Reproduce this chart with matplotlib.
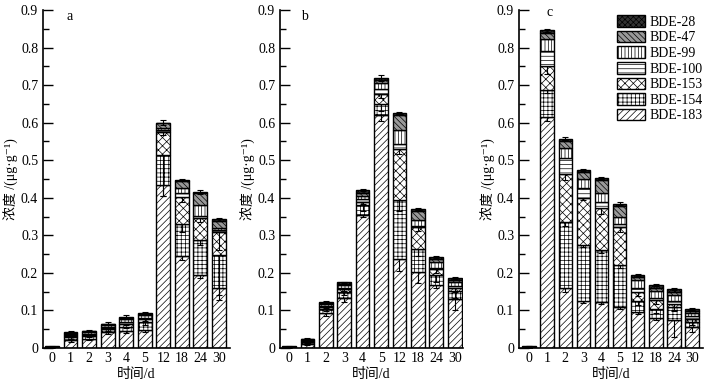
import numpy as np
import matplotlib
matplotlib.use('Agg')
import matplotlib.pyplot as plt

# Fuentes: serif para números y CJK para el chino
plt.rcParams['font.family'] = ['Liberation Serif', 'Noto Sans CJK SC', 'DejaVu Serif']
plt.rcParams['hatch.linewidth'] = 0.5

# Días de muestreo
dias = ['0', '1', '2', '3', '4', '5', '12', '18', '24', '30']

# Congéneres (de abajo hacia arriba en la pila)
congeneres = ['BDE-183', 'BDE-154', 'BDE-153', 'BDE-100', 'BDE-99', 'BDE-47', 'BDE-28']
tramas = ['/////', '++++', 'xxxx', '----', '|||||', '\\\\\\\\\\\\', 'xxxxxx']
fondos = ['white', 'white', 'white', 'white', 'white', '0.6', '0.2']

# Panel a (μg/g)
a_183 = [0.002, 0.020, 0.025, 0.042, 0.045, 0.048, 0.434, 0.244, 0.195, 0.160]
a_154 = [0.0005, 0.008, 0.007, 0.008, 0.012, 0.020, 0.080, 0.086, 0.093, 0.087]
a_153 = [0.0005, 0.004, 0.003, 0.004, 0.008, 0.008, 0.062, 0.073, 0.058, 0.063]
a_100 = [0.0003, 0.002, 0.002, 0.003, 0.004, 0.004, 0.004, 0.009, 0.006, 0.003]
a_99 = [0.0003, 0.004, 0.005, 0.005, 0.008, 0.007, 0.005, 0.013, 0.029, 0.006]
a_47 = [0.0002, 0.002, 0.002, 0.002, 0.003, 0.003, 0.013, 0.020, 0.032, 0.019]
a_28 = [0.0002, 0.002, 0.001, 0.001, 0.002, 0.002, 0.002, 0.003, 0.003, 0.005]

# Panel b
b_183 = [0.002, 0.010, 0.092, 0.132, 0.354, 0.620, 0.236, 0.202, 0.168, 0.131]
b_154 = [0.0005, 0.005, 0.012, 0.016, 0.026, 0.030, 0.159, 0.062, 0.027, 0.021]
b_153 = [0.0005, 0.002, 0.005, 0.008, 0.010, 0.027, 0.136, 0.058, 0.015, 0.008]
b_100 = [0.0003, 0.002, 0.004, 0.005, 0.006, 0.013, 0.013, 0.004, 0.004, 0.006]
b_99 = [0.0003, 0.003, 0.004, 0.007, 0.009, 0.015, 0.036, 0.015, 0.016, 0.010]
b_47 = [0.0002, 0.001, 0.003, 0.003, 0.008, 0.008, 0.041, 0.024, 0.007, 0.006]
b_28 = [0.0002, 0.002, 0.003, 0.004, 0.007, 0.007, 0.005, 0.005, 0.006, 0.005]

# Panel c
c_183 = [0.001, 0.615, 0.160, 0.125, 0.122, 0.110, 0.095, 0.080, 0.075, 0.057]
c_154 = [0.0002, 0.073, 0.176, 0.150, 0.140, 0.112, 0.030, 0.023, 0.035, 0.013]
c_153 = [0.0002, 0.062, 0.127, 0.125, 0.110, 0.101, 0.023, 0.025, 0.008, 0.008]
c_100 = [0.0002, 0.040, 0.042, 0.025, 0.018, 0.008, 0.013, 0.006, 0.006, 0.006]
c_99 = [0.0002, 0.032, 0.027, 0.024, 0.022, 0.019, 0.019, 0.018, 0.018, 0.008]
c_47 = [0.0002, 0.018, 0.020, 0.019, 0.036, 0.028, 0.008, 0.008, 0.008, 0.006]
c_28 = [0.003, 0.006, 0.005, 0.005, 0.005, 0.006, 0.007, 0.008, 0.007, 0.006]

# Desviaciones (solo algunos congéneres y el total)
a_e183 = [0.001, 0.004, 0.004, 0.005, 0.006, 0.006, 0.030, 0.010, 0.008, 0.020]
a_e154 = [0.0, 0.003, 0.003, 0.004, 0.005, 0.006, 0.110, 0.020, 0.015, 0.120]
a_e153 = [0.0, 0.002, 0.002, 0.003, 0.004, 0.003, 0.010, 0.015, 0.010, 0.050]
a_etot = [0.001, 0.003, 0.002, 0.003, 0.006, 0.004, 0.006, 0.003, 0.005, 0.004]

b_e183 = [0.001, 0.003, 0.008, 0.010, 0.006, 0.015, 0.030, 0.030, 0.008, 0.030]
b_e154 = [0.0, 0.003, 0.006, 0.008, 0.015, 0.020, 0.030, 0.020, 0.020, 0.020]
b_e153 = [0.0, 0.002, 0.003, 0.004, 0.006, 0.010, 0.015, 0.010, 0.010, 0.010]
b_etot = [0.001, 0.002, 0.003, 0.002, 0.003, 0.008, 0.002, 0.003, 0.003, 0.003]

c_e183 = [0.001, 0.010, 0.010, 0.005, 0.005, 0.005, 0.005, 0.005, 0.045, 0.015]
c_e154 = [0.0, 0.010, 0.010, 0.005, 0.010, 0.010, 0.010, 0.010, 0.010, 0.010]
c_e153 = [0.0, 0.020, 0.015, 0.005, 0.015, 0.015, 0.010, 0.010, 0.020, 0.010]
c_etot = [0.001, 0.004, 0.004, 0.003, 0.003, 0.004, 0.003, 0.003, 0.003, 0.003]

paneles = [
    ('a', [a_183, a_154, a_153, a_100, a_99, a_47, a_28],
     [a_e183, a_e154, a_e153, None, None, None, a_etot], [43, 230], (70, 17)),
    ('b', [b_183, b_154, b_153, b_100, b_99, b_47, b_28],
     [b_e183, b_e154, b_e153, None, None, None, b_etot], [280, 463], (304, 17)),
    ('c', [c_183, c_154, c_153, c_100, c_99, c_47, c_28],
     [c_e183, c_e154, c_e153, None, None, None, c_etot], [519, 703], (550, 12)),
]
xlims = [(-0.49, 9.6), (-0.49, 9.45), (-0.55, 9.6)]

W, H = 710, 383
fig = plt.figure(figsize=(W / 100, H / 100), dpi=100)

x = np.arange(len(dias))
for k, (letra, series, errores, (x0, x1), pos_letra) in enumerate(paneles):
    ax = fig.add_axes([x0 / W, (H - 348) / H, (x1 - x0) / W, 338 / H])
    base = np.zeros(len(dias))
    n = len(series)
    for i, vals in enumerate(series):
        vals = np.array(vals)
        ax.bar(x, vals, bottom=base, width=0.74, color=fondos[i], edgecolor='black',
               linewidth=1.0, hatch=tramas[i], zorder=2 + 2 * i, label=congeneres[i])
        if errores[i] is not None:
            err = np.array(errores[i])
            # el total lleva barra completa; los segmentos solo hacia abajo
            if i == n - 1:
                yerr = err
            else:
                yerr = [err, np.zeros_like(err)]
            ax.errorbar(x, base + vals, yerr=yerr, fmt='none', ecolor='black',
                        elinewidth=0.8, capsize=2, capthick=0.8, zorder=3 + 2 * i)
        base = base + vals

    ax.set_xlim(*xlims[k])
    ax.set_ylim(0, 0.9)
    ax.set_xticks(x)
    ax.set_xticklabels(dias)
    ax.set_yticks(np.arange(0, 0.91, 0.1))
    ax.set_yticklabels(['0'] + ['%.1f' % v for v in np.arange(0.1, 0.91, 0.1)])
    ax.set_yticks(np.arange(0.05, 0.9, 0.1), minor=True)
    ax.tick_params(axis='y', which='major', direction='in', length=7, width=1, labelsize=10)
    ax.tick_params(axis='y', which='minor', direction='in', length=4, width=1)
    ax.tick_params(axis='x', length=0, labelsize=10, pad=3)
    for lado in ['top', 'right']:
        ax.spines[lado].set_visible(False)
    for lado in ['left', 'bottom']:
        ax.spines[lado].set_linewidth(1.2)

    ax.set_ylabel('浓度 /(μg·g⁻¹)', fontsize=10, labelpad=1)
    ax.set_xlabel('时间/d', fontsize=10, labelpad=2)
    fig.text(pos_letra[0] / W, 1 - pos_letra[1] / H, letra, fontsize=10,
             ha='center', va='center')

    if letra == 'c':
        h, l = ax.get_legend_handles_labels()
        ax.legend(h[::-1], l[::-1], loc='upper left', bbox_to_anchor=(0.535, 0.985),
                  frameon=False, fontsize=10, handlelength=2.0, handleheight=0.9,
                  labelspacing=0.15, handletextpad=0.3, borderpad=0, borderaxespad=0)

fig.savefig('out.png', dpi=100)
